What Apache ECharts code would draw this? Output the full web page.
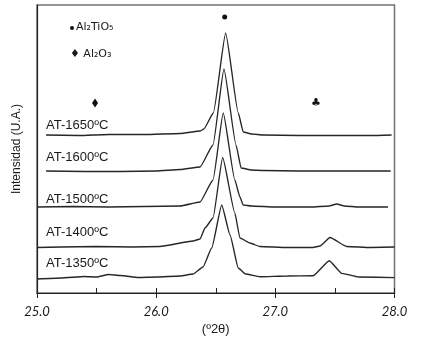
<!DOCTYPE html>
<html><head><meta charset="utf-8">
<script src="https://cdn.jsdelivr.net/npm/echarts@6/dist/echarts.min.js"></script>
<style>html,body{margin:0;padding:0;background:#fff}#c{width:425px;height:337px}</style>
</head><body><div id="c"></div>
<script>
// 2θ (degrees) vs intensity (arbitrary units, stacked offsets)
const at1650 = [[25.076,158],[25.35,157.5],[25.6,158.5],[25.9,158.5],[26.2,159.5],[26.37,162],[26.40,164],[26.48,180],[26.583,260],[26.689,180],[26.731,161],[26.80,159],[26.90,158],[27.2,157.5],[27.5,157.5],[27.8,157.5],[27.976,158]];
const at1600 = [[25.076,122],[25.4,121.5],[25.7,121.5],[26.0,122],[26.2,123.5],[26.368,126],[26.477,148],[26.569,224],[26.67,148],[26.713,125],[26.80,123],[26.9,122.5],[27.2,122],[27.5,122],[27.8,122],[27.968,122]];
const at1500 = [[25.0,86],[25.3,86.5],[25.6,86],[25.9,86.5],[26.2,87],[26.368,91],[26.477,113],[26.563,180],[26.66,113],[26.703,96],[26.73,88],[26.80,87],[27.0,86],[27.3,86],[27.45,87],[27.515,89],[27.58,87],[27.7,86],[27.945,86]];
const at1400 = [[25.0,45.5],[25.2,46],[25.5,46.5],[25.8,46],[26.03,46.5],[26.31,52],[26.368,54],[26.41,65],[26.477,75],[26.558,135.5],[26.66,80],[26.703,55],[26.787,50],[26.87,46.5],[27.1,45.5],[27.316,45.5],[27.375,47],[27.459,55.5],[27.599,46.5],[27.8,45.5],[28.0,46]];
const at1350 = [[25.0,14],[25.2,15],[25.4,16.5],[25.5,16],[25.6,18.5],[25.7,17.5],[25.85,15.5],[26.0,16],[26.2,17],[26.31,19],[26.393,26],[26.466,45],[26.55,88],[26.62,58],[26.689,25],[26.75,19],[26.871,16.3],[27.1,17],[27.316,17.3],[27.453,32.3],[27.557,19.7],[27.7,16],[28.0,15.3]];
const seriesNames = ['AT-1650ºC','AT-1600ºC','AT-1500ºC','AT-1400ºC','AT-1350ºC'];
const seriesData = [at1650, at1600, at1500, at1400, at1350];
const labelAnchors = [[25.076,168],[25.076,136],[25.076,94],[25.076,61],[25.076,30]];
const xTickLabels = {25:'25.0',26:'26.0',27:'27.0',28:'28.0'};
const phaseMarks = [{name:'Al2TiO5',coord:[26.575,276],symbol:'circle'},{name:'Al2O3',coord:[25.487,190],symbol:'diamond'}];
const clubMark = [27.34,190];

const chart = echarts.init(document.getElementById('c'), null, {renderer:'canvas'});
const txt = '#1a1a1a';
const series = seriesData.map((d,i)=>({
  type:'line', name:seriesNames[i], data:d, symbol:'none', smooth:0.15, smoothMonotone:'x',
  lineStyle:{color:'#262626', width:1.35},
  silent:true,
  markPoint:{
    symbol:'circle', symbolSize:0, silent:true,
    label:{show:true, position:'right', distance:0, formatter:seriesNames[i], color:txt, fontSize:13, fontFamily:'Liberation Sans'},
    data:[{coord:labelAnchors[i]}]
  }
}));
series.push({
  type:'line', data:[], symbol:'none',
  markPoint:{
    silent:true,
    label:{show:false},
    itemStyle:{color:'#111'},
    data:[
      {coord:phaseMarks[0].coord, symbol:'circle', symbolSize:5},
      {coord:phaseMarks[1].coord, symbol:'diamond', symbolSize:[6,9]},
      {coord:clubMark, symbol:'circle', symbolSize:0, label:{show:true, position:'inside', formatter:'♣', color:'#111', fontSize:11, fontFamily:'DejaVu Sans'}}
    ]
  }
});

chart.setOption({
  animation:false,
  grid:{left:37, right:30.5, top:5, bottom:44, show:true, borderColor:'#707070', borderWidth:1.5, outerBoundsMode:'none', containLabel:false},
  xAxis:[{
    type:'value', min:25, max:28, interval:0.5,
    axisLine:{lineStyle:{color:'#222', width:1.2}},
    axisTick:{inside:true, length:5, lineStyle:{color:'#222'}},
    axisLabel:{formatter:v=>xTickLabels[v]||'', margin:12, fontStyle:'italic', fontSize:13, color:txt, fontFamily:'Lato'},
    splitLine:{show:false},
    name:'(º2θ)', nameLocation:'middle', nameGap:23,
    nameTextStyle:{fontSize:13, color:txt, fontFamily:'Liberation Sans'}
  },{
    type:'value', min:25, max:28, interval:1, position:'bottom',
    axisLine:{show:false}, axisTick:{inside:false, length:5, lineStyle:{color:'#222'}},
    axisLabel:{show:false}, splitLine:{show:false}
  }],
  yAxis:{
    type:'value', min:0, max:288,
    axisLine:{show:true, lineStyle:{color:'#222', width:1.2}},
    axisTick:{show:false}, axisLabel:{show:false}, splitLine:{show:false},
    name:'Intensidad (U.A.)', nameLocation:'middle', nameGap:14,
    nameTextStyle:{fontSize:12, color:txt, fontFamily:'Liberation Sans'}
  },
  graphic:[
    {type:'circle', left:70, top:26, shape:{r:2}, style:{fill:'#111'}},
    {type:'text', left:76, top:22, style:{text:'Al₂TiO₅', fill:txt, fontSize:11, fontFamily:'DejaVu Sans'}},
    {type:'text', left:70, top:49, style:{text:'♦ Al₂O₃', fill:txt, fontSize:11, fontFamily:'DejaVu Sans'}}
  ],
  series:series
});
</script></body></html>
